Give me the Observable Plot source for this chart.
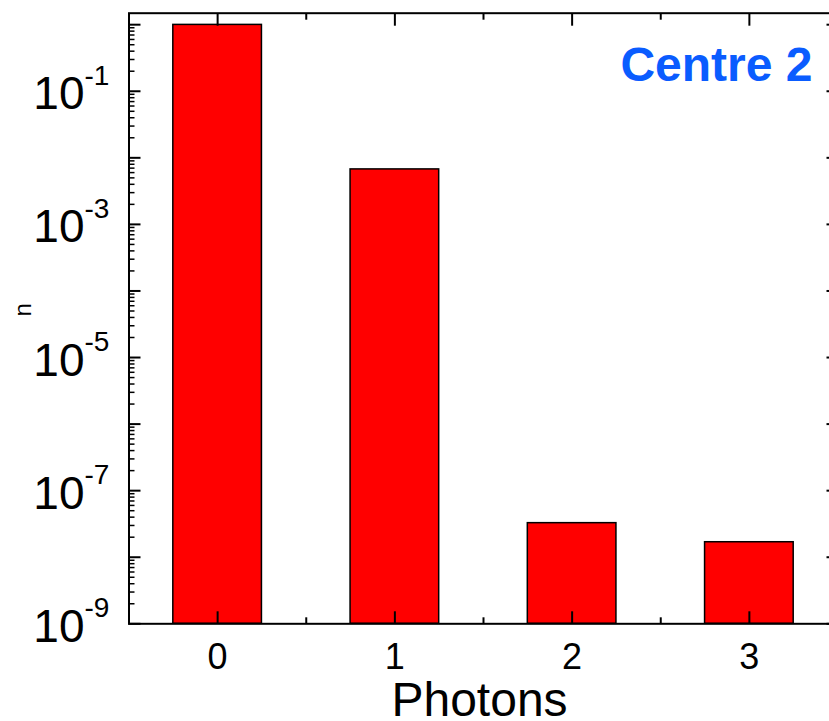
<!DOCTYPE html>
<html><head><meta charset="utf-8">
<script src="https://cdn.jsdelivr.net/npm/d3@7"></script>
<script src="https://cdn.jsdelivr.net/npm/@observablehq/plot@0.6"></script>
<style>html,body{margin:0;padding:0;overflow:hidden;background:#fff} #chart svg{max-width:none !important;display:block}</style>
</head><body><div id="chart"></div>
<script>
// ---- data ----
const photons = [0, 1, 2, 3];
const probabilities = [0.993, 6.7e-3, 3.25e-8, 1.68e-8];
const xTickValues = [0, 1, 2, 3];
const xTickLabels = ["0", "1", "2", "3"];
const xMinorTicks = [0.5, 1.5, 2.5];
const yLabelExponents = [-1, -3, -5, -7, -9];
const yDecadeExponents = [-9, -8, -7, -6, -5, -4, -3, -2, -1, 0];
const xLabel = "Photons";
const yLabel = "n";
const panelLabel = "Centre 2";

// ---- derived tables ----
const bars = photons.map((p, i) => ({p, v: probabilities[i]}));
const yMajor = yDecadeExponents.map(e => Math.pow(10, e));
const yMinor = yDecadeExponents.slice(0, -1).flatMap(e => d3.range(2, 10).map(k => k * Math.pow(10, e)));
const yLabels = yLabelExponents.map(e => ({v: Math.pow(10, e), e}));
const xLabels = xTickValues.map((x, i) => ({x, t: xTickLabels[i]}));

const font = "'Liberation Sans', Arial, sans-serif";
const tickStyle = {stroke: "black", strokeWidth: 2, label: null, tickFormat: () => ""};

const chart = Plot.plot({
  width: 838,
  height: 721,
  marginLeft: 128.5,
  marginRight: 0.5,
  marginTop: 12.7,
  marginBottom: 97.7,
  style: {fontFamily: font, color: "black", background: "white"},
  x: {type: "linear", domain: [-0.5, 3.5]},
  y: {type: "log", domain: [1e-9, 1.488]},
  marks: [
    Plot.rect(bars, {x1: d => d.p - 0.25, x2: d => d.p + 0.25, y1: 1e-9, y2: "v", fill: "#ff0000", stroke: "black", strokeWidth: 1.5}),
    // left axis
    Plot.axisY({...tickStyle, anchor: "left", ticks: yMajor, tickSize: -12}),
    Plot.axisY({...tickStyle, anchor: "left", ticks: yMinor, tickSize: -6, strokeWidth: 1.5}),
    // right axis
    Plot.axisY({...tickStyle, anchor: "right", ticks: yMajor, tickSize: -12}),
    Plot.axisY({...tickStyle, anchor: "right", ticks: yMinor, tickSize: -6, strokeWidth: 1.5}),
    // bottom / top axes
    Plot.axisX({...tickStyle, anchor: "bottom", ticks: xTickValues, tickSize: -12}),
    Plot.axisX({...tickStyle, anchor: "bottom", ticks: xMinorTicks, tickSize: -6}),
    Plot.axisX({...tickStyle, anchor: "top", ticks: xTickValues, tickSize: -12}),
    Plot.axisX({...tickStyle, anchor: "top", ticks: xMinorTicks, tickSize: -6}),
    Plot.frame({stroke: "black", strokeWidth: 2}),
    // y tick labels 10^e
    Plot.text(yLabels, {y: "v", text: () => "10", frameAnchor: "left", textAnchor: "end", lineAnchor: "bottom", dx: -44.5, dy: 18, fontSize: 46, fill: "black"}),
    Plot.text(yLabels, {y: "v", text: d => "-" + Math.abs(d.e), frameAnchor: "left", textAnchor: "start", lineAnchor: "bottom", dx: -44.5, dy: -6.5, fontSize: 28, fill: "black"}),
    // x tick labels
    Plot.text(xLabels, {x: "x", text: "t", frameAnchor: "bottom", lineAnchor: "bottom", dy: 45, fontSize: 36, fill: "black"}),
    // axis titles
    Plot.text([xLabel], {text: d => d, frameAnchor: "bottom", lineAnchor: "bottom", dx: -4, dy: 91.7, fontSize: 48, fill: "black"}),
    Plot.text([yLabel], {text: d => d, frameAnchor: "left", rotate: -90, dx: -105.5, dy: -2, fontSize: 24, fill: "black"}),
    // panel label
    Plot.text([panelLabel], {text: d => d, frameAnchor: "top-right", textAnchor: "end", lineAnchor: "bottom", dx: -25.5, dy: 67.3, fontSize: 48, fontWeight: "bold", fill: "#0a5cff"})
  ]
});
document.getElementById("chart").appendChild(chart);
</script>
</body></html>
